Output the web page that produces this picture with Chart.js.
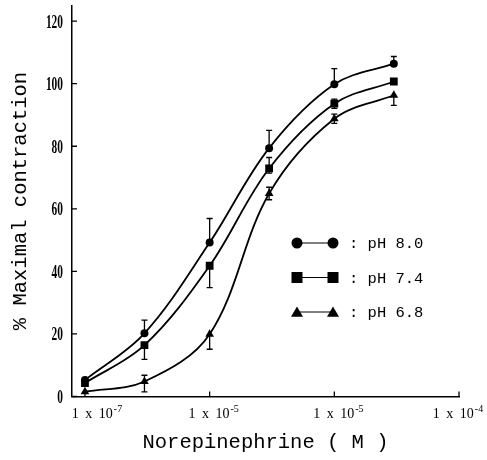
<!DOCTYPE html>
<html><head><meta charset="utf-8">
<script src="https://cdn.jsdelivr.net/npm/chart.js@4/dist/chart.umd.min.js"></script>
<style>html,body{margin:0;padding:0;background:#fff;}#wrap{width:487px;height:460px;}</style>
</head><body><div id="wrap"><canvas id="c" width="487" height="460"></canvas></div>
<script>
// ---- data ----
const concentrations = [1e-7, 3e-7, 1e-6, 3e-6, 1e-5, 3e-5];
const seriesNames = ['pH 8.0', 'pH 7.4', 'pH 6.8'];
const ph80 = [5.3, 20.2, 49.2, 79.4, 99.8, 106.4];
const ph80ErrUp = [0, 4.2, 7.7, 5.7, 5.0, 2.3];
const ph80ErrDn = [0, 0, 0, 0, 0, 0];
const ph74 = [4.3, 16.4, 41.8, 72.9, 93.6, 100.7];
const ph74ErrUp = [0, 0, 0, 3.5, 1.5, 0];
const ph74ErrDn = [0, 4.5, 7.0, 1.5, 1.5, 0];
const ph68 = [1.5, 4.8, 19.9, 64.9, 88.8, 96.3];
const ph68ErrUp = [0, 2.0, 0, 2.0, 1.5, 0];
const ph68ErrDn = [0, 3.3, 4.8, 2.0, 1.5, 3.2];
const xTickValues = [1e-7, 1e-6, 1e-5, 1e-4];
const xTickBase = ['1 x 10', '1 x 10', '1 x 10', '1 x 10'];
const xTickExp = ['-7', '-5', '-5', '-4'];
const yTickValues = [0, 20, 40, 60, 80, 100, 120];

const seriesValues = [ph80, ph74, ph68];
const seriesUp = [ph80ErrUp, ph74ErrUp, ph68ErrUp];
const seriesDn = [ph80ErrDn, ph74ErrDn, ph68ErrDn];
const pointStyles = ['circle', 'rect', 'triangle'];
const pointRadii = [4, 5.5, 5];

const xLabelShift = [12, 4, 4, -1];

function drawMarker(ctx, style, x, y, s) {
  ctx.beginPath();
  if (style === 'circle') { ctx.arc(x, y, s / 2, 0, Math.PI * 2); }
  else if (style === 'rect') { ctx.rect(x - s / 2, y - s / 2, s, s); }
  else { ctx.moveTo(x, y - s * 0.45); ctx.lineTo(x + s / 2, y + s * 0.4); ctx.lineTo(x - s / 2, y + s * 0.4); ctx.closePath(); }
  ctx.fill();
}

const errorBars = {
  id: 'errorBars',
  afterDatasetsDraw(chart) {
    const ctx = chart.ctx, ys = chart.scales.y;
    ctx.save();
    ctx.strokeStyle = '#000'; ctx.lineWidth = 1.3;
    chart.data.datasets.forEach((ds, i) => {
      const meta = chart.getDatasetMeta(i);
      meta.data.forEach((pt, j) => {
        const v = seriesValues[i][j], up = seriesUp[i][j], dn = seriesDn[i][j];
        if (!up && !dn) return;
        const yT = ys.getPixelForValue(v + up), yB = ys.getPixelForValue(v - dn), x = pt.x;
        ctx.beginPath();
        ctx.moveTo(x, yT); ctx.lineTo(x, yB);
        if (up) { ctx.moveTo(x - 3, yT); ctx.lineTo(x + 3, yT); }
        if (dn) { ctx.moveTo(x - 3, yB); ctx.lineTo(x + 3, yB); }
        ctx.stroke();
      });
    });
    ctx.restore();
  }
};

const axisDecor = {
  id: 'axisDecor',
  afterDraw(chart) {
    const ctx = chart.ctx, xs = chart.scales.x, ys = chart.scales.y, a = chart.chartArea;
    ctx.save();
    ctx.strokeStyle = '#000'; ctx.lineWidth = 1.3;
    ctx.beginPath();
    yTickValues.forEach(v => { const py = ys.getPixelForValue(v); ctx.moveTo(a.left, py); ctx.lineTo(a.left + 5, py); });
    xTickValues.forEach(v => { const px = xs.getPixelForValue(v); ctx.moveTo(px, a.bottom); ctx.lineTo(px, a.bottom - 5); });
    ctx.stroke();
    ctx.fillStyle = '#000';
    // y tick labels (tall, narrow serif)
    ctx.textAlign = 'right'; ctx.textBaseline = 'alphabetic';
    yTickValues.forEach(v => {
      const py = ys.getPixelForValue(v);
      ctx.save(); ctx.translate(a.left - 9, py + 6.5); ctx.scale(0.6, 1);
      ctx.font = 'bold 19px "Liberation Serif"';
      ctx.fillText(String(v), 0, 0);
      ctx.restore();
    });
    // x tick labels with superscripts
    xTickValues.forEach((v, i) => {
      const px = xs.getPixelForValue(v) + xLabelShift[i];
      ctx.font = '14px "Liberation Serif"';
      ctx.wordSpacing = '3px';
      const wb = ctx.measureText(xTickBase[i]).width;
      ctx.font = '10px "Liberation Serif"';
      ctx.wordSpacing = '0px';
      const we = ctx.measureText(xTickExp[i]).width;
      const x0 = px - (wb + we + 1) / 2;
      ctx.textAlign = 'left';
      ctx.font = '14px "Liberation Serif"'; ctx.wordSpacing = '3px';
      ctx.fillText(xTickBase[i], x0, 418);
      ctx.font = '10px "Liberation Serif"'; ctx.wordSpacing = '0px';
      ctx.fillText(xTickExp[i], x0 + wb + 1, 412);
    });
    // legend
    const ly0 = 243, ldy = 34.5, mx1 = 297, mx2 = 333, tx = 349;
    seriesNames.forEach((name, i) => {
      const y = ly0 + i * ldy;
      ctx.lineWidth = 1;
      ctx.beginPath(); ctx.moveTo(mx1, y); ctx.lineTo(mx2, y); ctx.stroke();
      drawMarker(ctx, pointStyles[i], mx1, y, i === 2 ? 12 : 11);
      drawMarker(ctx, pointStyles[i], mx2, y, i === 2 ? 12 : 11);
      ctx.font = '15.5px "Liberation Mono"';
      ctx.textAlign = 'left'; ctx.textBaseline = 'middle';
      ctx.fillText(': ' + name, tx, y + 1);
      ctx.textBaseline = 'alphabetic';
    });
    ctx.restore();
  }
};

const datasets = seriesNames.map((name, i) => ({
  label: name,
  data: concentrations.map((c, j) => ({ x: c, y: seriesValues[i][j] })),
  borderColor: '#000',
  backgroundColor: '#000',
  borderWidth: 1.8,
  pointStyle: pointStyles[i],
  pointRadius: pointRadii[i],
  pointBackgroundColor: '#000',
  pointBorderColor: '#000',
  pointBorderWidth: 0,
  tension: 0.35,
  fill: false
}));

new Chart(document.getElementById('c'), {
  type: 'line',
  data: { datasets },
  plugins: [errorBars, axisDecor],
  options: {
    responsive: false,
    animation: false,
    devicePixelRatio: 1,
    layout: { padding: { left: 0, right: 28, top: 5, bottom: 0 } },
    plugins: { legend: { display: false }, tooltip: { enabled: false } },
    scales: {
      x: {
        type: 'logarithmic',
        min: 7.87e-8, max: 1e-4,
        grid: { display: false, drawTicks: false },
        border: { display: true, color: '#000', width: 1.5 },
        ticks: { display: false },
        title: { display: true, text: 'Norepinephrine ( M )', color: '#000',
          font: { family: 'Liberation Mono', size: 20.5 }, padding: { top: 0, bottom: 5 } },
        afterFit(s) { s.height = 63.5; }
      },
      y: {
        type: 'linear',
        min: 0, max: 125,
        grid: { display: false, drawTicks: false },
        border: { display: true, color: '#000', width: 1.5 },
        ticks: { display: false },
        title: { display: true, text: '% Maximal contraction', color: '#000',
          font: { family: 'Liberation Mono', size: 20.5 }, padding: { top: 8, bottom: 0 } },
        afterFit(s) { s.width = 72; }
      }
    }
  }
});
</script>
</body></html>
